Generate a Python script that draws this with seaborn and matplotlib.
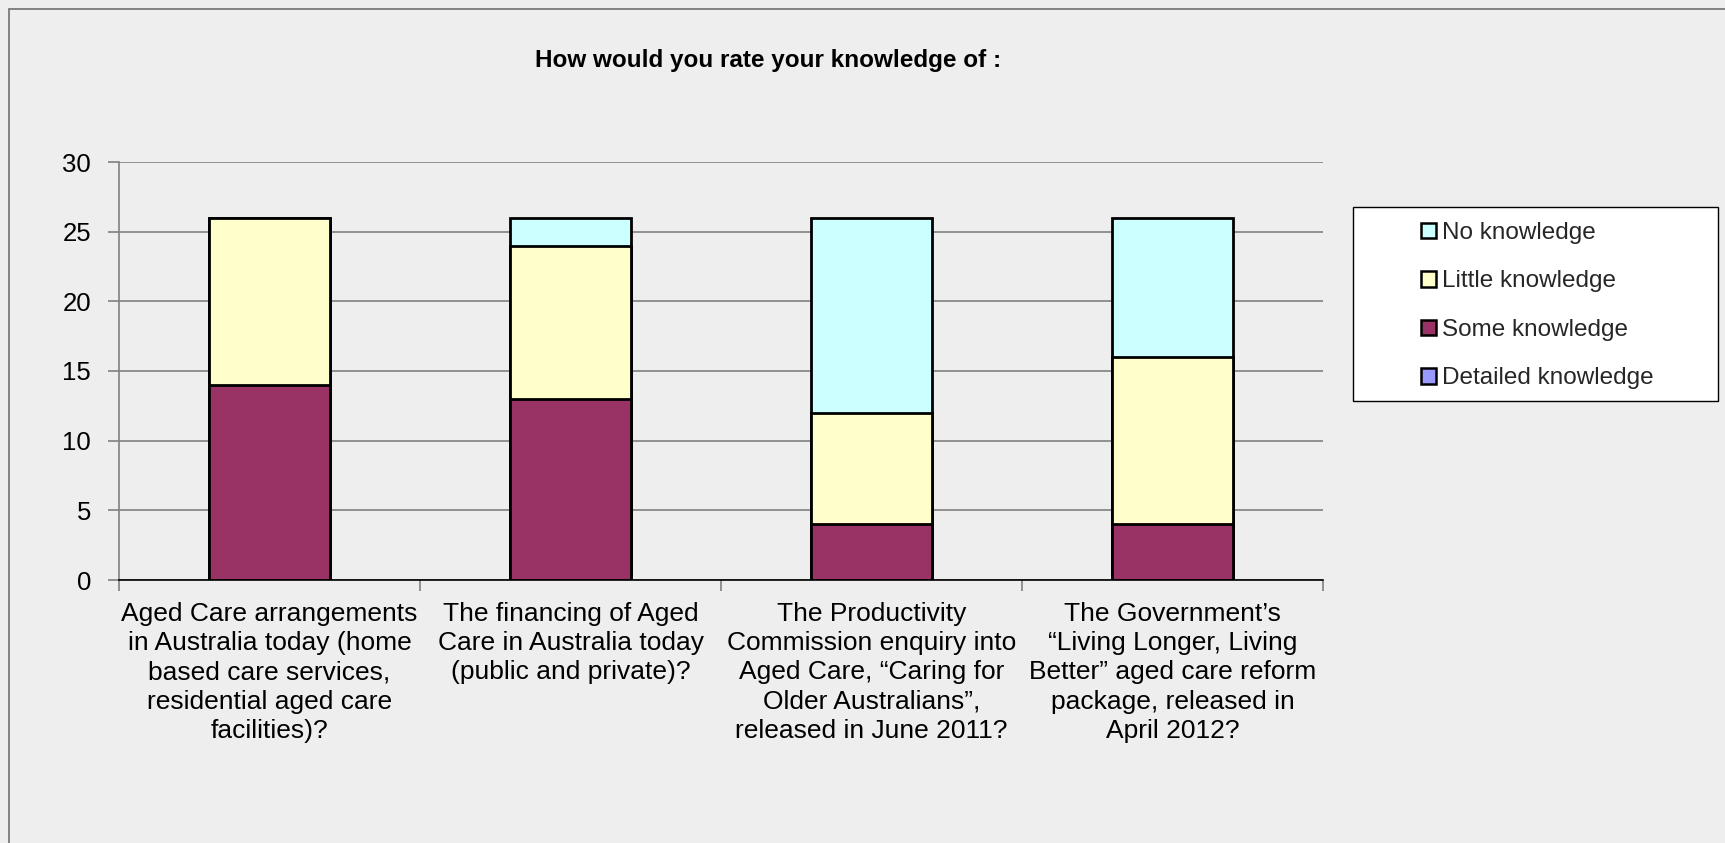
import matplotlib
matplotlib.use("Agg")
import matplotlib.pyplot as plt
import seaborn as sns
import pandas as pd
import numpy as np
from matplotlib.patches import Patch, Rectangle

# ---- data ----
categories = [
    "Aged Care arrangements\nin Australia today (home\nbased care services,\nresidential aged care\nfacilities)?",
    "The financing of Aged\nCare in Australia today\n(public and private)?",
    "The Productivity\nCommission enquiry into\nAged Care, \u201cCaring for\nOlder Australians\u201d,\nreleased in June 2011?",
    "The Government\u2019s\n\u201cLiving Longer, Living\nBetter\u201d aged care reform\npackage, released in\nApril 2012?",
]
detailed_knowledge = [0, 0, 0, 0]
some_knowledge = [14, 13, 4, 4]
little_knowledge = [12, 11, 8, 12]
no_knowledge = [0, 2, 14, 10]
y_ticks = [0, 5, 10, 15, 20, 25, 30]
title = "How would you rate your knowledge of :"

series_order = ["Detailed knowledge", "Some knowledge", "Little knowledge", "No knowledge"]
series_values = [detailed_knowledge, some_knowledge, little_knowledge, no_knowledge]
series_colors = ["#9999FF", "#993366", "#FFFFCC", "#CCFFFF"]

BG = "#EEEEEE"

sns.set_theme(style="white")
plt.rcParams['font.family'] = ['Liberation Sans', 'DejaVu Sans']

W, H = 1725, 843
fig = plt.figure(figsize=(W / 100, H / 100), dpi=100, facecolor=BG)

# outer chart frame (extends beyond right / bottom edges)
fig.patches.append(Rectangle((9 / W, -0.1), 1.2, 1 - 9 / H + 0.1, transform=fig.transFigure,
                             facecolor="none", edgecolor="#707070", linewidth=1.2, zorder=0))

left, right, top, bottom = 119, 1323, 162, 580
ax = fig.add_axes([left / W, 1 - bottom / H, (right - left) / W, (bottom - top) / H])
ax.set_facecolor(BG)

# cumulative tops, bottom -> top stacking
df = pd.DataFrame({"category": categories})
cum = np.zeros(len(categories))
for name, vals in zip(series_order, series_values):
    cum = cum + np.array(vals, dtype=float)
    df[name] = cum.copy()

# draw from tallest cumulative down so each segment overlays the one above
for name, color in reversed(list(zip(series_order, series_colors))):
    sns.barplot(data=df, x="category", y=name, order=categories, color=color,
                saturation=1, width=0.4, edgecolor="black", linewidth=2,
                errorbar=None, ax=ax, zorder=3)

ax.set_ylim(0, 30)
ax.set_yticks(y_ticks)
ax.set_xlim(-0.5, len(categories) - 0.5)
ax.set_xlabel("")
ax.set_ylabel("")

ax.yaxis.grid(True, color="#808080", linewidth=1.2)
ax.set_axisbelow(True)

pos = np.arange(len(categories))
ax.set_xticks(np.arange(len(categories) + 1) - 0.5)
ax.set_xticklabels([])
ax.set_xticks(pos, minor=True)
ax.set_xticklabels(categories, minor=True, fontsize=19, linespacing=1.27)
ax.tick_params(axis="x", which="major", direction="out", length=8, width=1.2,
               color="#808080", bottom=True)
ax.tick_params(axis="x", which="minor", length=0, pad=16, bottom=True)
ax.tick_params(axis="y", direction="out", length=8, width=1.2, color="#808080",
               labelsize=18.5, pad=12, left=True)
for lab in ax.get_yticklabels():
    lab.set_color("black")
for lab in ax.get_xticklabels(minor=True):
    lab.set_color("black")

for s in ["top", "right"]:
    ax.spines[s].set_visible(False)
ax.spines["left"].set_color("#808080")
ax.spines["left"].set_linewidth(1.2)
ax.spines["bottom"].set_color("black")
ax.spines["bottom"].set_linewidth(1.2)

fig.text(768 / W, 1 - 60 / H, title, ha="center", va="center", fontsize=17.5,
         fontweight="bold", color="black")

# legend
lx0, lx1, ly0, ly1 = 1353, 1718, 207, 401
fig.patches.append(Rectangle((lx0 / W, 1 - ly1 / H), (lx1 - lx0) / W, (ly1 - ly0) / H,
                             transform=fig.transFigure, facecolor="white",
                             edgecolor="black", linewidth=1, zorder=1))
handles = [Patch(facecolor=c, edgecolor="black", linewidth=1.8, label=n)
           for n, c in zip(series_order, series_colors)][::-1]
leg = fig.legend(handles=handles, loc="upper left",
                 bbox_to_anchor=(1421 / W, 1 - 222 / H), frameon=False,
                 fontsize=17.5, handlelength=0.6, handleheight=0.6,
                 handletextpad=0.25, labelspacing=1.09, borderpad=0, borderaxespad=0)
leg.set_zorder(2)

fig.savefig("out.png", dpi=100, facecolor=BG)
